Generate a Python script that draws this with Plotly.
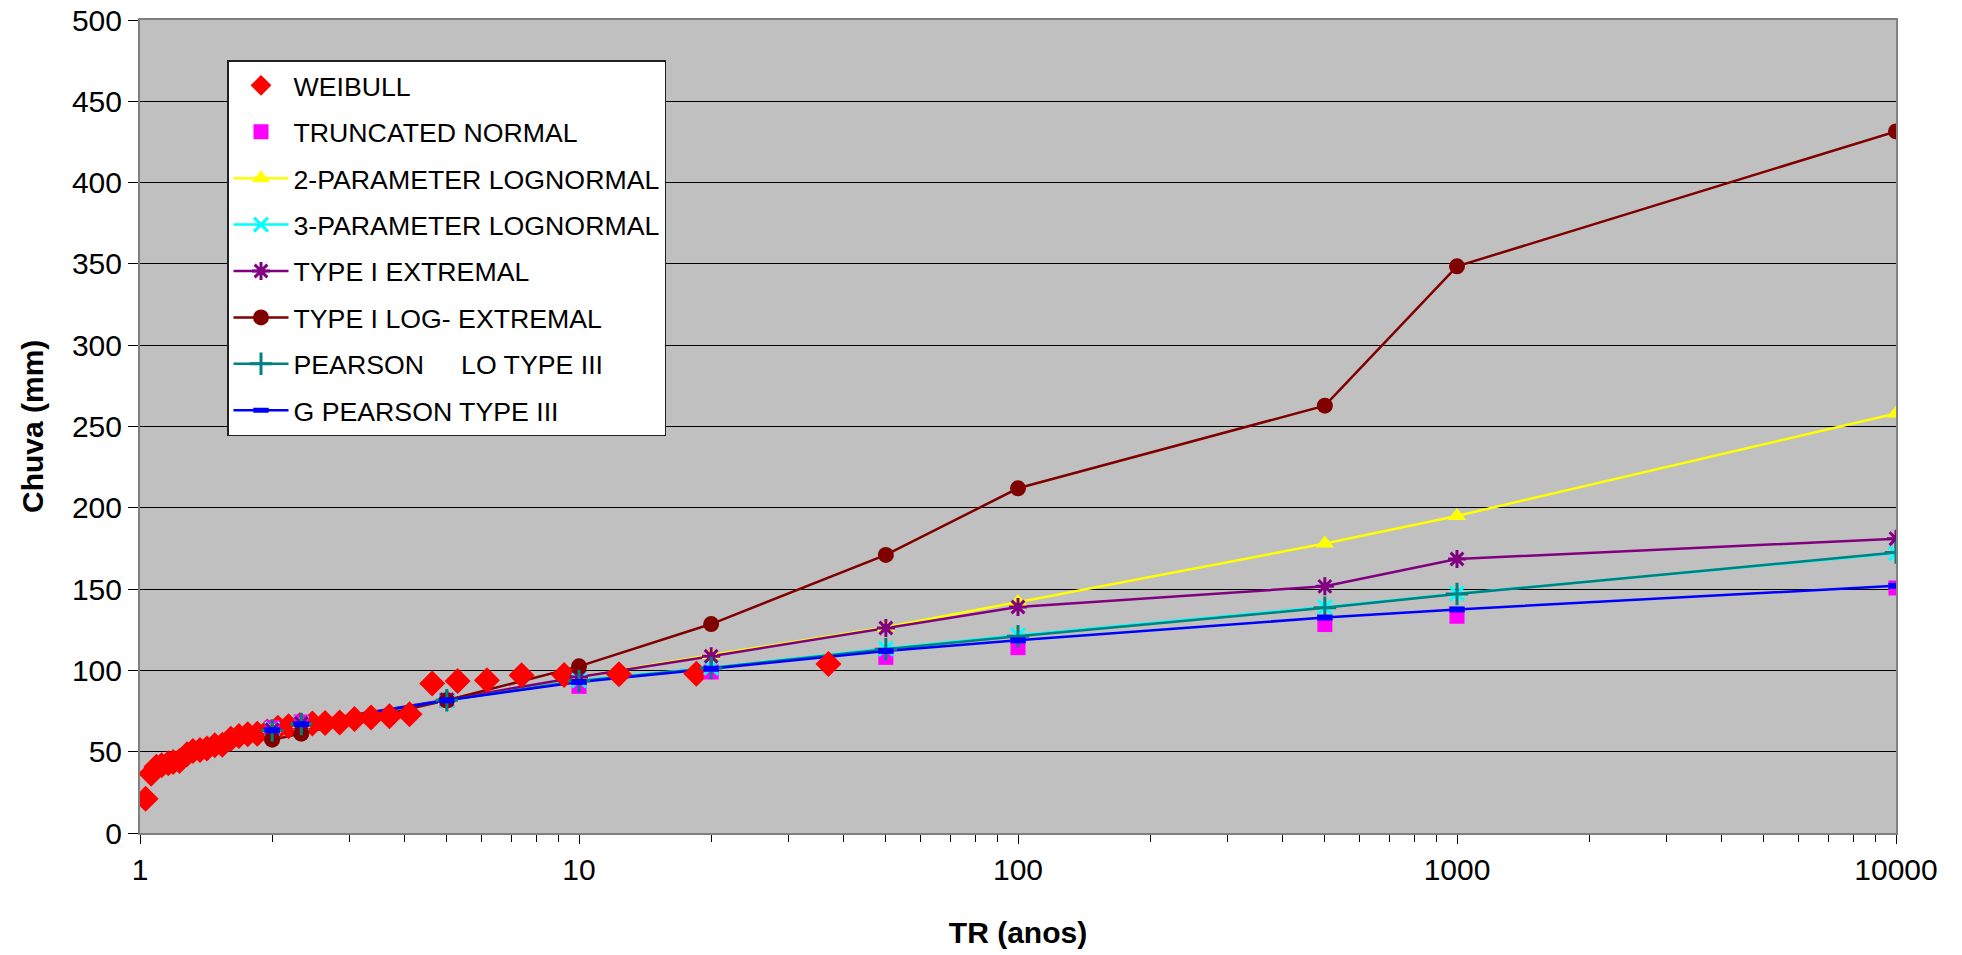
import plotly.graph_objects as go

# ---------------- data ----------------
weibull_tr = [37.0, 18.5, 12.33, 9.25, 7.4, 6.17, 5.29, 4.63, 4.11, 3.7, 3.36, 3.08,
              2.85, 2.64, 2.47, 2.31, 2.18, 2.06, 1.95, 1.85, 1.76, 1.68, 1.61, 1.54,
              1.48, 1.42, 1.37, 1.32, 1.28, 1.23, 1.19, 1.16, 1.12, 1.09, 1.06, 1.03]
weibull_rain = [104, 98, 97.6, 97.2, 97, 93.9, 93.5, 91.9, 73, 71.8, 71, 70.1,
                67.9, 67.7, 67.3, 66.2, 65.6, 64.8, 62.5, 61, 60.7, 59.7, 58, 54.2,
                53.9, 51.9, 51.1, 50.5, 48.4, 44.3, 43.7, 42.9, 41.6, 40.8, 36.5, 21]

tr = [2, 2.33, 5, 10, 20, 50, 100, 500, 1000, 10000]
truncated_normal = [64.8, 68.3, 81.6, 90.2, 99, 108, 114, 128.2, 133.3, 150.7]
lognormal_2p = [64, 67, 81.6, 96, 109.5, 126.5, 142, 178, 195, 258]
lognormal_3p = [64, 67.5, 81.6, 93.9, 101.7, 113.4, 121.6, 139, 147.2, 172]
type1_extremal = [63.5, 67.5, 82, 96, 108.7, 126.1, 139, 151.7, 168.5, 181]
type1_log_extremal = [57.4, 61.1, 81.6, 102.5, 128.5, 171, 212, 262.8, 348.5, 431.5]
pearson_3 = [63, 67, 81.6, 93.5, 101.5, 113, 121, 138.5, 147, 172.5]
log_pearson_3 = [63.2, 66.9, 81.6, 92.9, 101, 112, 118.5, 132.5, 137.5, 152]

x_tickvals = [1, 10, 100, 1000, 10000]
x_ticktext = ["1", "10", "100", "1000", "10000"]

FONT = "Liberation Sans, Arial, sans-serif"

line_series = [
    ("2-PARAMETER LOGNORMAL", lognormal_2p, "#FFFF00",
     dict(symbol="triangle-up", size=16, color="#FFFF00", line=dict(width=0))),
    ("3-PARAMETER LOGNORMAL", lognormal_3p, "#00FFFF",
     dict(symbol="x-thin-open", size=14, color="#00FFFF", line=dict(width=3, color="#00FFFF"))),
    ("TYPE I EXTREMAL", type1_extremal, "#800080",
     dict(symbol="asterisk-open", size=15, color="#800080", line=dict(width=3, color="#800080"))),
    ("TYPE I LOG- EXTREMAL", type1_log_extremal, "#800000",
     dict(symbol="circle", size=16, color="#800000", line=dict(width=0))),
    ("PEARSON\u00a0\u00a0\u00a0\u00a0\u00a0LO TYPE III", pearson_3, "#008080",
     dict(symbol="cross-thin-open", size=16, color="#008080", line=dict(width=3, color="#008080"))),
    ("G PEARSON TYPE III", log_pearson_3, "#0000FF",
     dict(symbol="line-ew-open", size=11, color="#0000FF", line=dict(width=6, color="#0000FF"))),
]

fig = go.Figure()

# lines first (Excel draws all lines beneath markers)
for name, vals, col, mk in line_series:
    fig.add_trace(go.Scatter(x=tr, y=vals, mode="lines", line=dict(color=col, width=2.5),
                             showlegend=False, hoverinfo="skip"))

# markers-only series (with legend)
fig.add_trace(go.Scatter(x=weibull_tr, y=weibull_rain, mode="markers", name="WEIBULL",
                         legendgroup="g1",
                         marker=dict(symbol="diamond", size=20, color="#FF0000", line=dict(width=0))))
fig.add_trace(go.Scatter(x=tr, y=truncated_normal, mode="markers", name="TRUNCATED NORMAL",
                         legendgroup="g2",
                         marker=dict(symbol="square", size=15, color="#FF00FF", line=dict(width=0))))

# legend entries for line series
for i, (name, vals, col, mk) in enumerate(line_series):
    fig.add_trace(go.Scatter(x=[None], y=[None], mode="lines+markers", name=name,
                             legendgroup="g%d" % (i + 3),
                             line=dict(color=col, width=2.5), marker=mk))

# markers of line series on top
for i, (name, vals, col, mk) in enumerate(line_series):
    fig.add_trace(go.Scatter(x=tr, y=vals, mode="markers", marker=mk, showlegend=False,
                             legendgroup="g%d" % (i + 3)))

fig.update_layout(
    width=1962, height=955,
    margin=dict(l=140, r=66, t=20, b=122),
    paper_bgcolor="white",
    plot_bgcolor="#C0C0C0",
    font=dict(family=FONT, color="black", size=30),
    legend=dict(
        x=(227 - 140) / 1756, y=(833 - 60) / 813, xanchor="left", yanchor="top",
        bgcolor="white", bordercolor="#202020", borderwidth=1.5,
        font=dict(family=FONT, size=26.7, color="black"),
        traceorder="grouped", tracegroupgap=8.7, itemwidth=55,
    ),
    xaxis=dict(
        type="log", range=[0, 4], automargin=False,
        tickvals=x_tickvals, ticktext=x_ticktext,
        ticks="outside", ticklen=9, tickwidth=1, tickcolor="black",
        minor=dict(ticks="outside", ticklen=7, tickwidth=1, tickcolor="black", dtick="D1", showgrid=False),
        showgrid=False, zeroline=False,
        showline=True, linecolor="#808080", linewidth=2, mirror=True,
        tickfont=dict(size=30),
        title=dict(text="<b>TR (anos)</b>", font=dict(size=30), standoff=37),
    ),
    yaxis=dict(
        range=[0, 500], dtick=50, automargin=False,
        ticks="outside", ticklen=10, tickwidth=1, tickcolor="black",
        showgrid=True, gridcolor="black", gridwidth=1,
        zeroline=False,
        showline=True, linecolor="#808080", linewidth=2, mirror=True,
        tickfont=dict(size=30),
    ),
    annotations=[dict(
        text="<b>Chuva (mm)</b>", textangle=-90,
        xref="paper", yref="paper", x=0, y=0.5, xanchor="center", yanchor="middle",
        xshift=-(140 - 32.5), showarrow=False, font=dict(family=FONT, size=30, color="black"),
    )],
)

fig.write_html("out.html")
